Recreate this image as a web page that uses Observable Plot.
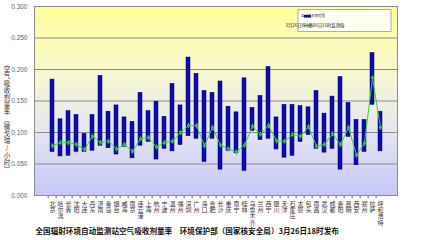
<!DOCTYPE html>
<html><head><meta charset="utf-8">
<script src="https://cdn.jsdelivr.net/npm/d3@7"></script>
<script src="https://cdn.jsdelivr.net/npm/@observablehq/plot@0.6"></script>
<style>body{margin:0;background:#fff}</style>
</head><body><div id="chart"></div>
<script>
const cities = ["北京","哈尔滨","长春","沈阳","大连","丹东","济南","青岛","烟台","威海","南京","连云港","上海","杭州","宁波","温州","福州","深圳","广州","海口","合肥","长沙","重庆","南宁","桂林","乌鲁木齐","兰州","西宁","银川","天津","石家庄","太原","包头","南昌","武汉","成都","贵阳","昆明","西安","郑州","拉萨","呼和浩特"];
const hi = [0.184,0.121,0.134,0.128,0.098,0.128,0.190,0.133,0.143,0.124,0.117,0.163,0.134,0.149,0.125,0.177,0.143,0.219,0.193,0.166,0.163,0.181,0.141,0.132,0.186,0.139,0.158,0.204,0.124,0.144,0.144,0.142,0.140,0.166,0.130,0.157,0.188,0.147,0.120,0.120,0.226,0.133];
const lo = [0.069,0.062,0.063,0.069,0.069,0.071,0.079,0.075,0.065,0.077,0.059,0.079,0.085,0.057,0.074,0.070,0.080,0.094,0.090,0.053,0.090,0.041,0.071,0.067,0.039,0.102,0.088,0.090,0.073,0.060,0.063,0.085,0.096,0.074,0.068,0.074,0.041,0.093,0.048,0.069,0.144,0.070];
const obs = [0.079,0.084,0.084,0.081,0.073,0.094,0.084,0.086,0.074,0.081,0.070,0.090,0.092,0.077,0.084,0.086,0.100,0.111,0.111,0.079,0.108,0.080,0.074,0.069,0.080,0.110,0.097,0.111,0.087,0.086,0.097,0.094,0.109,0.078,0.081,0.098,0.081,0.108,0.064,0.083,0.187,0.108];
const yTicks = [0,0.05,0.1,0.15,0.2,0.25,0.3];
const legendLabels = ["自动站本底范围","3月26日0时至26日15时监测值"];
const yTitle = "空气吸收剂量率（微戈瑞/小时）";
const title = "全国辐射环境自动监测站空气吸收剂量率　环境保护部（国家核安全局）3月26日18时发布";

const data = cities.map((c,i)=>({city:c, lo:lo[i], hi:hi[i], obs:obs[i]}));
const cjk = "'Noto Sans CJK SC', sans-serif";

const chart = Plot.plot({
  width:421, height:240, marginLeft:34, marginRight:24, marginTop:6, marginBottom:45,
  style:{background:"transparent", fontFamily:cjk, overflow:"visible"},
  x:{type:"band", domain:cities, paddingInner:0.55, paddingOuter:0.275, axis:null},
  y:{domain:[0,0.3], axis:null},
  marks:[
    Plot.frame({fill:"url(#bg)", stroke:null}),
    Plot.ruleY(yTicks, {stroke:"#8c8c8c", strokeWidth:1}),
    Plot.axisY(yTicks, {tickSize:0, tickPadding:7, tickFormat:d3.format(".3f"), fontSize:6.5, fill:"#666", fontFamily:"'Liberation Sans', sans-serif", label:null}),
    Plot.ruleX(cities, {x:d=>d, y1:0, y2:-0.005, dx:-4.32, stroke:"#777"}),
    Plot.barY(data, {x:"city", y1:"lo", y2:"hi", fill:"#0c0caa", stroke:"#00007a", strokeWidth:0.5}),
    Plot.line(data, {x:"city", y:"obs", stroke:"#3ccf3c", strokeWidth:1}),
    Plot.dot(data, {x:"city", y:"obs", symbol:"diamond", r:1.8, fill:"#2fbf2f"}),
    Plot.text(cities, {x:d=>d, text:d=>d, frameAnchor:"bottom", textAnchor:"start", lineAnchor:"bottom", dy:5, fontSize:6, fill:"#333"}),
    Plot.text([yTitle], {text:d=>d, frameAnchor:"left", textAnchor:"middle", lineAnchor:"bottom", dx:-27.5, dy:18.5, fontSize:6.5, fill:"#333"}),
    Plot.text([title], {text:d=>d, frameAnchor:"bottom-left", textAnchor:"start", dx:1, dy:36.5, lineAnchor:"middle", fontSize:7.6, fontWeight:"bold", fill:"#111"}),
    Plot.frame({stroke:"#8c8c8c"})
  ]
});

const svg = d3.select(chart);
svg.selectAll("text").filter(function(){ return cities.includes(this.textContent) || this.textContent === yTitle; })
  .each(function(){
    const t = d3.select(this);
    ["y","dy"].forEach(a => { const v = t.attr(a); if (v && String(v).includes("em")) t.attr(a, null); });
    t.style("writing-mode","vertical-rl").style("text-orientation","upright")
     .style("letter-spacing", this.textContent === yTitle ? "0.7px" : "0.3px");
  });

const grad = svg.insert("defs", ":first-child").append("linearGradient")
  .attr("id","bg").attr("x1",0).attr("y1",0).attr("x2",0).attr("y2",1);
[[0,"#ffff99"],[0.4,"#f5f5d6"],[0.65,"#e6e6ef"],[1,"#c6c6fa"]].forEach(([o,c]) =>
  grad.append("stop").attr("offset",o).attr("stop-color",c));

const lg = svg.append("g").attr("font-family", cjk).attr("fill","#222");
lg.append("rect").attr("x",298).attr("y",9.5).attr("width",93).attr("height",22).attr("fill","#fffff4").attr("stroke","#999").attr("stroke-width",0.8);
lg.append("rect").attr("x",304).attr("y",15).attr("width",7).attr("height",2.6).attr("fill","#0c0caa");
lg.append("text").attr("x",313).attr("y",16.3).attr("dy","0.35em").attr("font-size",3.4).text(legendLabels[0]);
lg.append("line").attr("x1",304).attr("x2",314).attr("y1",25.7).attr("y2",25.7).attr("stroke","#3ccf3c").attr("stroke-width",1);
lg.append("path").attr("d","M309,24.2L310.5,25.7L309,27.2L307.5,25.7Z").attr("fill","#2fbf2f");
lg.append("text").attr("x",315).attr("y",25.7).attr("dy","0.35em").attr("font-size",4.4).text(legendLabels[1]);

document.getElementById("chart").appendChild(chart);
</script>
</body></html>
